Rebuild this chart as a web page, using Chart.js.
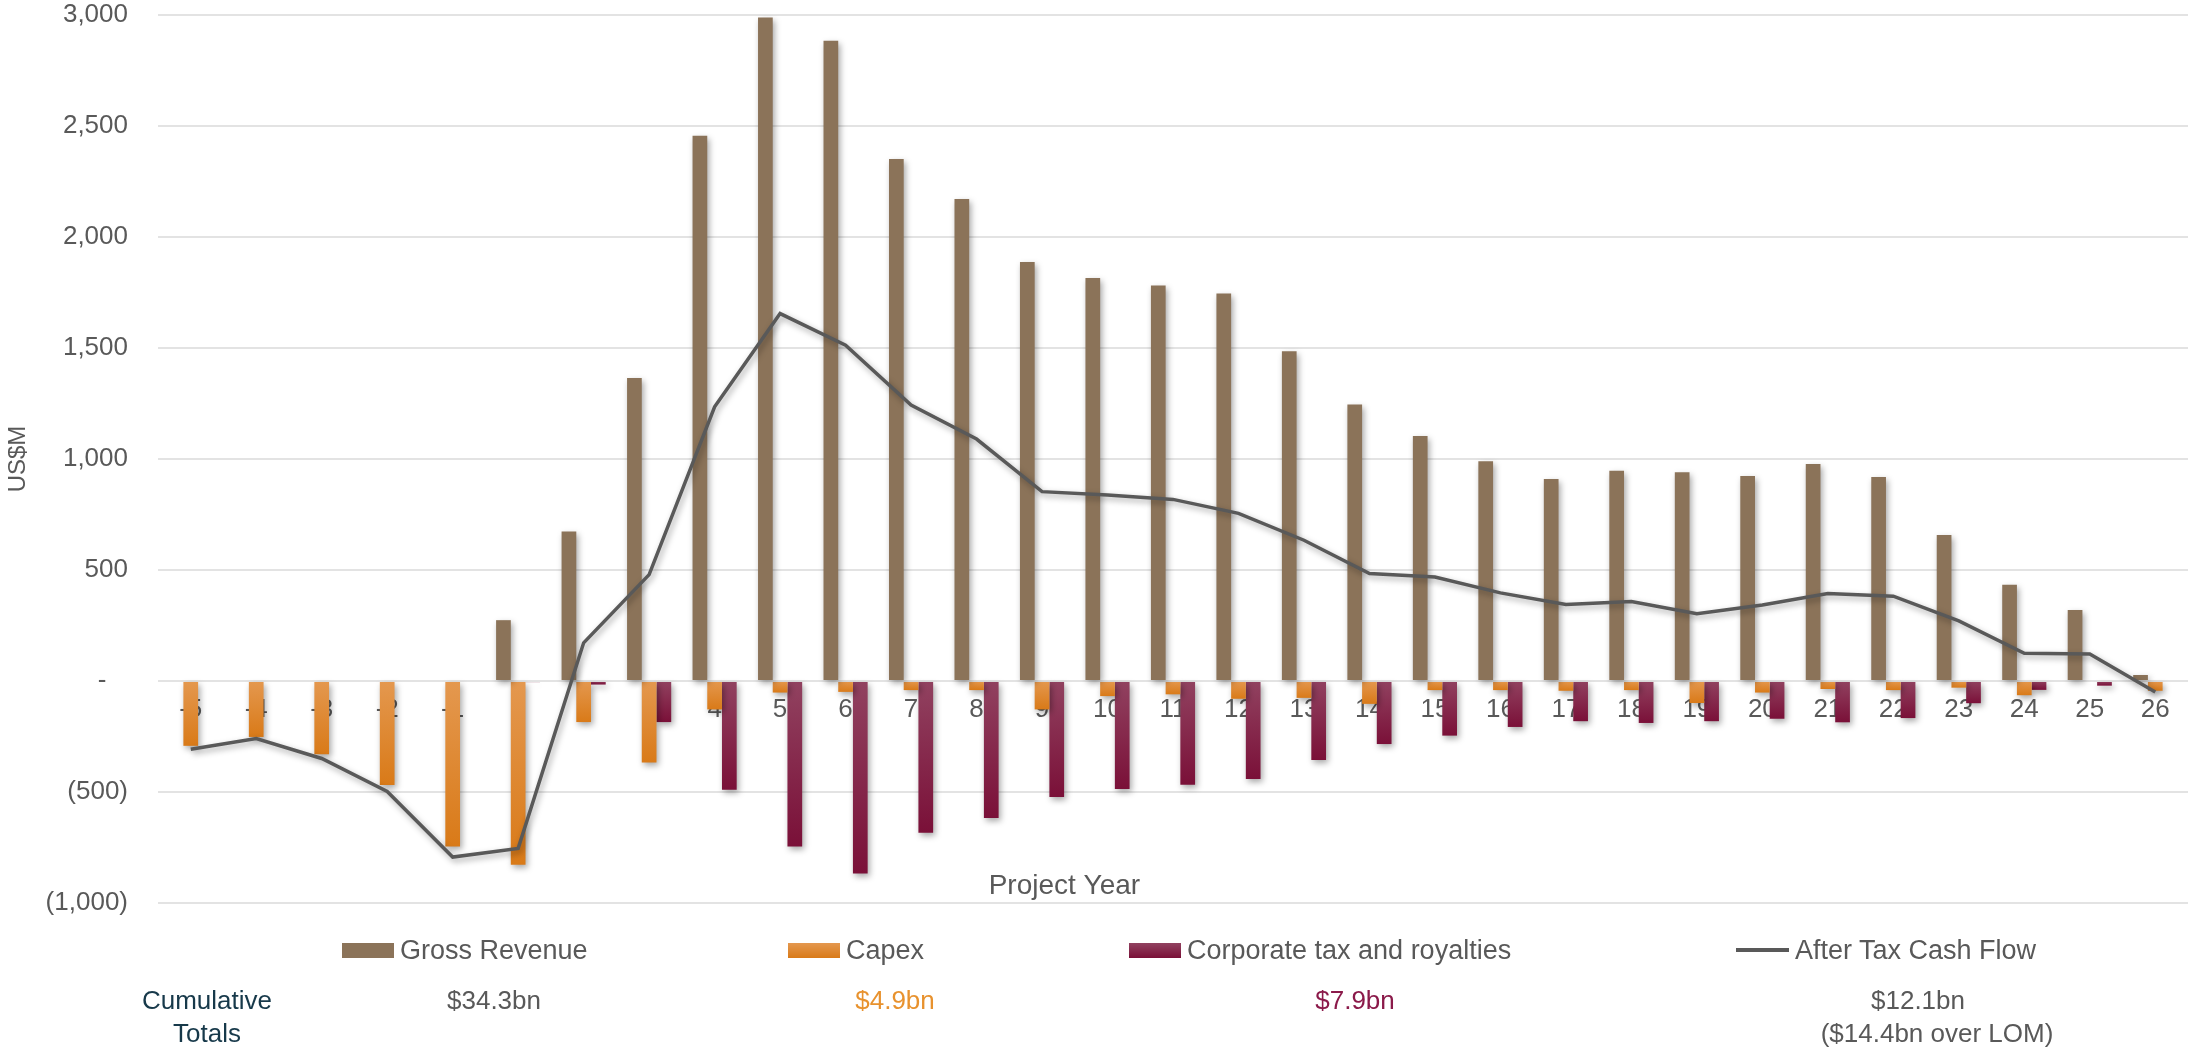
<!DOCTYPE html>
<html>
<head>
<meta charset="utf-8">
<script src="https://cdn.jsdelivr.net/npm/chart.js@4.4.1/dist/chart.umd.min.js"></script>
<style>
body { margin: 0; background: #fff; font-family: "Liberation Sans", Arial, sans-serif; }
#wrap { position: relative; width: 2188px; height: 1051px; }
#myChart { position: absolute; left: 0; top: 0; }
.leg { position: absolute; top: 935px; height: 30px; display: flex; align-items: center; font-size: 27px; color: #595959; white-space: nowrap; }
.leg .box { width: 52px; height: 15px; margin-right: 6px; }
.leg .ln { width: 53px; height: 4px; margin-right: 6px; background: #595959; }
.tot { position: absolute; font-size: 26px; line-height: 33px; color: #595959; text-align: center; transform: translateX(-50%); white-space: nowrap; }
</style>
</head>
<body>
<div id="wrap">
  <canvas id="myChart" width="2188" height="1051"></canvas>

  <div class="leg" style="left:342px"><div class="box" style="background:#8b7359"></div>Gross Revenue</div>
  <div class="leg" style="left:788px"><div class="box" style="background:linear-gradient(#e4984f,#d97a18)"></div>Capex</div>
  <div class="leg" style="left:1129px"><div class="box" style="background:linear-gradient(#914260,#7a1038)"></div>Corporate tax and royalties</div>
  <div class="leg" style="left:1736px"><div class="ln"></div>After Tax Cash Flow</div>

  <div class="tot" style="left:207px; top:984px; color:#17394a">Cumulative<br>Totals</div>
  <div class="tot" style="left:494px; top:984px">$34.3bn</div>
  <div class="tot" style="left:895px; top:984px; color:#e8922e">$4.9bn</div>
  <div class="tot" style="left:1355px; top:984px; color:#8b1a4a">$7.9bn</div>
  <div class="tot" style="left:1918px; top:984px">$12.1bn</div>
  <div class="tot" style="left:1937px; top:1017px">($14.4bn over LOM)</div>
</div>

<script>
// values in US$M
const years = ["-5","-4","-3","-2","-1","1","2","3","4","5","6","7","8","9","10",
  "11","12","13","14","15","16","17","18","19","20","21","22","23","24","25","26"];

const grossRevenue = [0,0,0,0,0,
  274,673,1365,2456,2989,2884,2351,2171,1887,1815,1781,1745,1485,1245,1104,
  990,910,947,940,923,977,919,658,434,320,27];

const capex = [-292,-252,-330,-468,-746,
  -828,-185,-367,-128,-52,-49,-41,-41,-128,-68,-60,-80,-76,-103,-41,
  -41,-44,-41,-99,-52,-36,-41,-30,-64,0,-44];

const taxRoyalties = [0,0,0,0,0,
  -5,-16,-185,-490,-746,-867,-683,-617,-522,-486,-467,-442,-356,-284,-246,
  -207,-181,-189,-181,-170,-186,-167,-100,-40,-21,0];

const afterTaxCashFlow = [-307,-259,-349,-498,-793,
  -754,172,479,1235,1655,1513,1243,1090,853,838,818,755,634,484,468,
  397,345,358,303,342,394,382,271,125,122,-50];

const grey = "#595959";
Chart.defaults.font.family = '"Liberation Sans", Arial, sans-serif';
Chart.defaults.color = grey;

// gradient inside each bar, light at the zero line, darker at the end
function barGradient(light, dark) {
  return function(ctx) {
    const chart = ctx.chart;
    const y = chart.scales.y;
    if (!y || ctx.raw === undefined) return dark;
    const y0 = y.getPixelForValue(0);
    const y1 = y.getPixelForValue(ctx.raw);
    if (!isFinite(y0) || !isFinite(y1) || Math.abs(y1 - y0) < 1) return dark;
    const g = chart.ctx.createLinearGradient(0, Math.min(y0, y1), 0, Math.max(y0, y1));
    g.addColorStop(0, light);
    g.addColorStop(1, dark);
    return g;
  };
}

const shadow = {
  id: "shadow",
  beforeDatasetsDraw(chart) {
    const c = chart.ctx;
    c.save();
    c.shadowColor = "rgba(0,0,0,0.35)";
    c.shadowBlur = 6;
    c.shadowOffsetX = 2;
    c.shadowOffsetY = 3;
  },
  afterDatasetsDraw(chart) {
    chart.ctx.restore();
  }
};

const projectYear = {
  id: "projectYear",
  afterDraw(chart) {
    const { ctx, chartArea, scales } = chart;
    ctx.save();
    ctx.font = '28px "Liberation Sans", Arial, sans-serif';
    ctx.fillStyle = grey;
    ctx.textAlign = "center";
    ctx.textBaseline = "middle";
    const x = chartArea.left + (chartArea.right - chartArea.left) * 0.4465;
    ctx.fillText("Project Year", x, scales.y.getPixelForValue(-1000) - 17);
    ctx.restore();
  }
};

const config = {
  type: "bar",
  data: {
    labels: years,
    datasets: [
      {
        label: "Gross Revenue",
        data: grossRevenue,
        backgroundColor: "#8b7359"
      },
      {
        label: "Capex",
        data: capex,
        backgroundColor: barGradient("#e4984f", "#d97a18")
      },
      {
        label: "Corporate tax and royalties",
        data: taxRoyalties,
        backgroundColor: barGradient("#914260", "#7a1038")
      },
      {
        type: "line",
        label: "After Tax Cash Flow",
        data: afterTaxCashFlow,
        borderColor: grey,
        borderWidth: 3.5,
        pointRadius: 0,
        tension: 0,
        order: -1
      }
    ]
  },
  options: {
    responsive: false,
    animation: false,
    categoryPercentage: 0.674,
    barPercentage: 1,
    layout: { padding: { top: 0, right: 0, bottom: 148, left: 0 } },
    plugins: {
      legend: { display: false },
      tooltip: { enabled: false }
    },
    scales: {
      x: {
        position: { y: 0 },
        z: 1,
        grid: { display: false, drawTicks: false },
        border: { display: false },
        ticks: { color: grey, font: { size: 26 }, padding: 13, maxRotation: 0, autoSkip: false },
        afterFit(scale) { scale.height = 0; }
      },
      y: {
        min: -1000,
        max: 3000,
        grid: { color: "#e3e3e3", lineWidth: 2, drawTicks: false },
        border: { display: false },
        ticks: {
          stepSize: 500,
          color: grey,
          font: { size: 26 },
          padding: 30,
          callback: function(v) {
            if (v === 0) return "-   ";
            if (v < 0) return "(" + Math.abs(v).toLocaleString("en-US") + ")";
            return v.toLocaleString("en-US");
          }
        },
        title: { display: true, text: "US$M", color: grey, font: { size: 24 }, padding: { top: 4, bottom: 4 } },
        afterFit(scale) {
          scale.width = 158;
          scale.paddingTop = 15;
          scale.paddingBottom = 15;
        }
      }
    }
  },
  plugins: [shadow, projectYear]
};

window.onload = function() {
  new Chart(document.getElementById("myChart"), config);
};
</script>
</body>
</html>
